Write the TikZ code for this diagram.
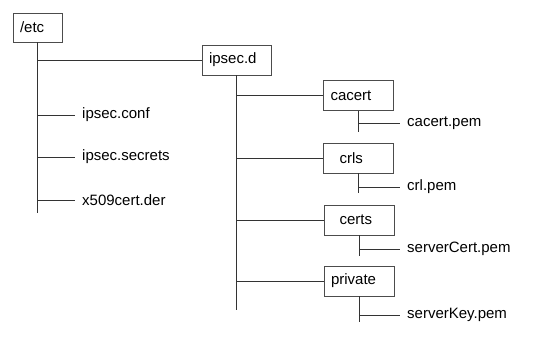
\documentclass[tikz,border=0pt]{standalone}
\usepackage{fontspec}
\setmainfont{Liberation Sans}
\usetikzlibrary{positioning}

\begin{document}
\begin{tikzpicture}[x=1pt, y=-1pt,
  dirbox/.style={draw=black!70, line width=0.8pt, text width=56pt, align=left,
    inner xsep=7pt, minimum height=30pt, font=\fontsize{15}{18}\selectfont},
  filelabel/.style={anchor=west, inner xsep=7pt, inner ysep=0pt,
    font=\fontsize{15}{18}\selectfont},
  branch/.style={draw=black!80, line width=0.8pt}]
  \useasboundingbox (0,0) rectangle (553,338);

  % directories
  \node[dirbox, text width=35pt, minimum height=29pt] (etc) at (37.5,27.5) {/etc};
  \node[dirbox, text width=55pt] (ipsecd) at (236.5,60) {ipsec.d};
  \node[dirbox] (cacert) at (358.5,95.5) {cacert};
  \node[dirbox] (crls) at (358.5,158) {\hspace*{9pt}crls};
  \node[dirbox] (certs) at (359.5,220) {\hspace*{8pt}certs};
  \node[dirbox] (private) at (359,281) {private};

  % files
  \node[filelabel] (conf) at (75,115) {ipsec.conf};
  \node[filelabel] (secrets) at (75,157) {ipsec.secrets};
  \node[filelabel] (der) at (75,200) {x509cert.der};
  \node[filelabel] (cacertpem) at (400,123) {cacert.pem};
  \node[filelabel] (crlpem) at (400,187) {crl.pem};
  \node[filelabel] (servercert) at (400,249) {serverCert.pem};
  \node[filelabel] (serverkey) at (400,315) {serverKey.pem};

  % /etc tree
  \draw[branch] (etc.south) -- ++(0,171) coordinate (etcend);
  \draw[branch] (etc.south |- ipsecd.west) -- (ipsecd.west);
  \foreach \f in {conf, secrets, der}
    \draw[branch] (etc.south |- \f.west) -- (\f.west);

  % ipsec.d tree
  \draw[branch] (ipsecd.south) -- ++(0,235) coordinate (ipsecdend);
  \foreach \d in {cacert, crls, certs, private}
    \draw[branch] (ipsecd.south |- \d.west) -- (\d.west);

  % files below each directory
  \draw[branch] (cacert.south) -- ++(0,21);
  \draw[branch] (cacert.south |- cacertpem.west) -- (cacertpem.west);
  \draw[branch] (crls.south) -- ++(0,20);
  \draw[branch] (crls.south |- crlpem.west) -- (crlpem.west);
  \draw[branch] (certs.south) -- ++(0,21);
  \draw[branch] (certs.south |- servercert.west) -- (servercert.west);
  \draw[branch] (private.south) -- ++(0,26);
  \draw[branch] (private.south |- serverkey.west) -- (serverkey.west);
\end{tikzpicture}
\end{document}
